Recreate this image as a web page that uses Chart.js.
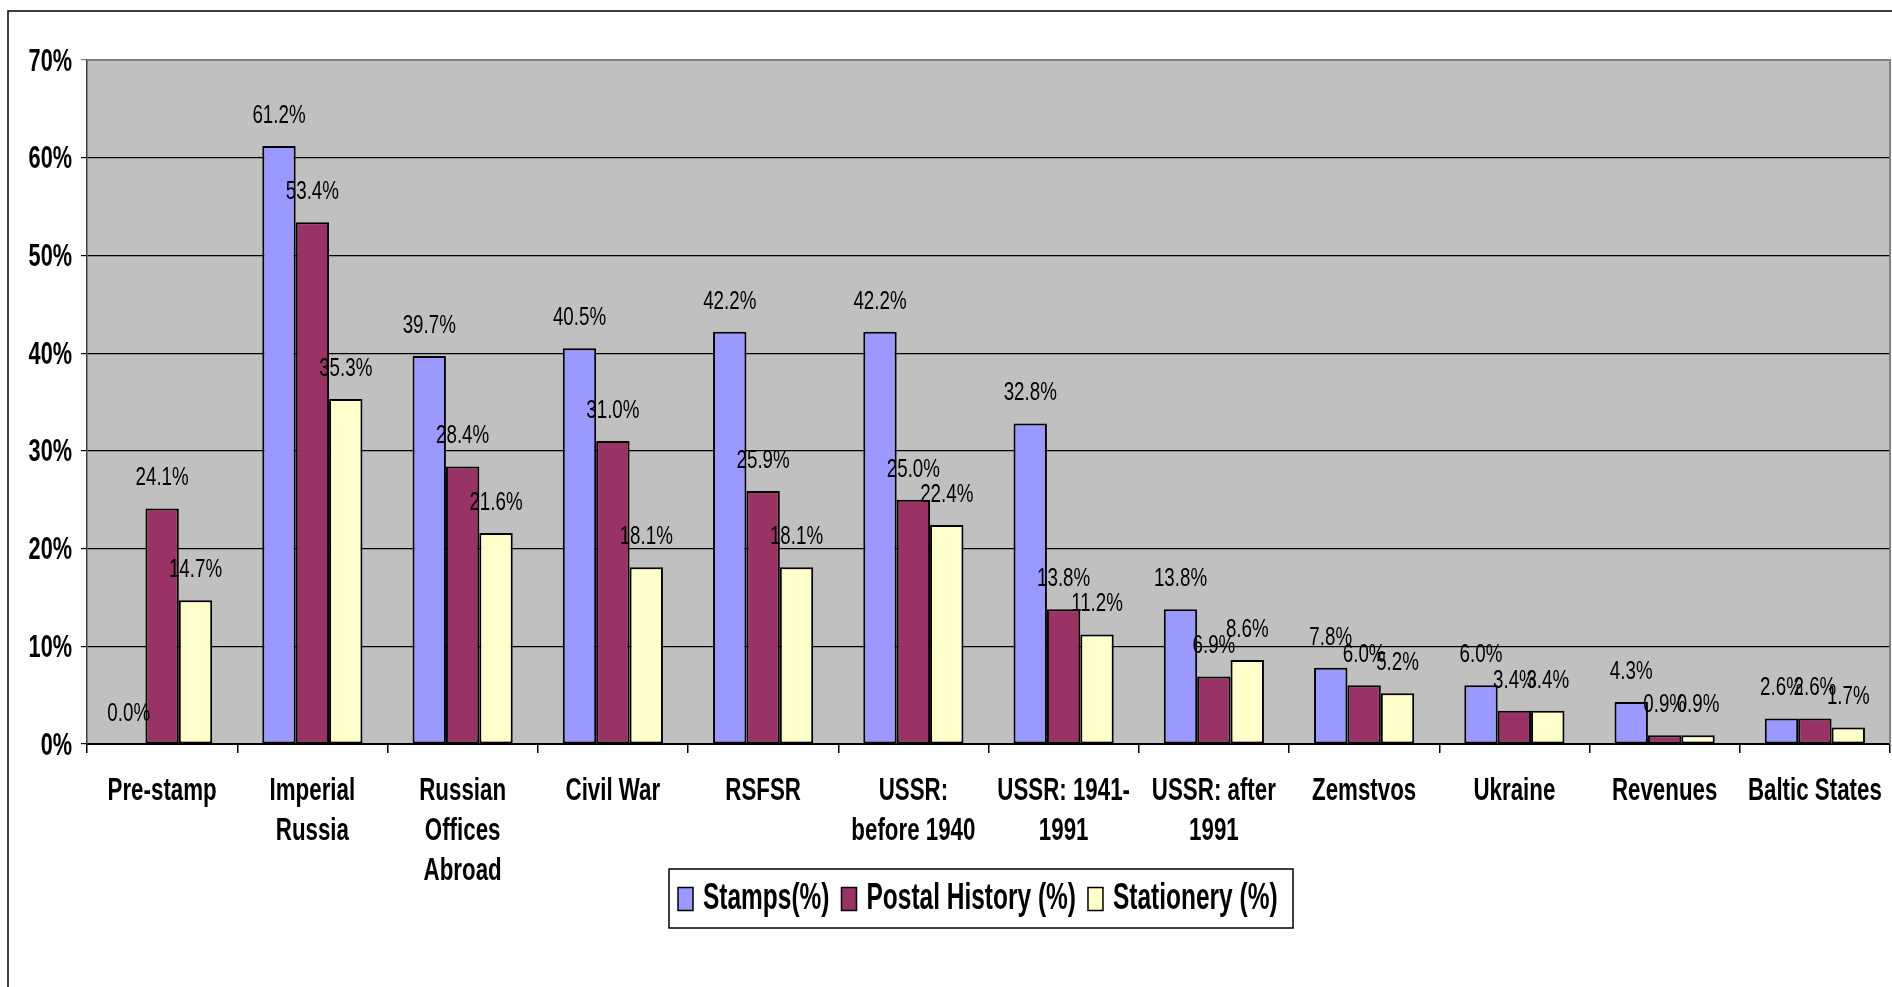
<!DOCTYPE html>
<html>
<head>
<meta charset="utf-8">
<script src="https://cdn.jsdelivr.net/npm/chart.js@4/dist/chart.umd.min.js"></script>
<style>
  html, body { margin: 0; padding: 0; background: #fff; overflow: hidden; }
  canvas { display: block; }
</style>
</head>
<body>
<canvas id="chart" width="1892" height="987"></canvas>
<script>
// Data
const categories = [
    ['Pre-stamp'],
    ['Imperial', 'Russia'],
    ['Russian', 'Offices', 'Abroad'],
    ['Civil War'],
    ['RSFSR'],
    ['USSR:', 'before 1940'],
    ['USSR: 1941-', '1991'],
    ['USSR: after', '1991'],
    ['Zemstvos'],
    ['Ukraine'],
    ['Revenues'],
    ['Baltic States']
];
const seriesNames = ['Stamps(%)', 'Postal History (%)', 'Stationery (%)'];
const stamps = [0.0, 61.2, 39.7, 40.5, 42.2, 42.2, 32.8, 13.8, 7.8, 6.0, 4.3, 2.6];
const postalHistory = [24.1, 53.4, 28.4, 31.0, 25.9, 25.0, 13.8, 6.9, 6.0, 3.4, 0.9, 2.6];
const stationery = [14.7, 35.3, 21.6, 18.1, 18.1, 22.4, 11.2, 8.6, 5.2, 3.4, 0.9, 1.7];
const yTicks = [0, 10, 20, 30, 40, 50, 60, 70];

// Arial Narrow look: Liberation Sans squeezed horizontally
const FONT = "'Liberation Sans', Arial, sans-serif";

function narrowText(ctx, text, x, y, sx, align) {
    ctx.save();
    ctx.translate(x, y);
    ctx.scale(sx, 1);
    ctx.textAlign = align;
    ctx.textBaseline = 'middle';
    ctx.fillText(text, 0, 0);
    ctx.restore();
}

// Frame, plot background and borders
const frame = {
    id: 'frame',
    beforeDraw(chart) {
        const ctx = chart.ctx;
        const a = chart.chartArea;
        ctx.save();
        ctx.fillStyle = '#fff';
        ctx.fillRect(0, 0, chart.width, chart.height);
        // outer chart border (cut off at right and bottom)
        ctx.strokeStyle = '#000';
        ctx.lineWidth = 1.5;
        ctx.beginPath();
        ctx.moveTo(8, chart.height);
        ctx.lineTo(8, 11);
        ctx.lineTo(chart.width, 11);
        ctx.stroke();
        // plot area
        ctx.fillStyle = '#c0c0c0';
        ctx.fillRect(a.left, a.top, a.right - a.left, a.bottom - a.top);
        ctx.restore();
    },
    beforeDatasetsDraw(chart) {
        const ctx = chart.ctx;
        const a = chart.chartArea;
        ctx.save();
        ctx.strokeStyle = '#808080';
        ctx.lineWidth = 2;
        ctx.beginPath();
        ctx.moveTo(a.left, a.top);
        ctx.lineTo(a.right, a.top);
        ctx.lineTo(a.right, a.bottom);
        ctx.stroke();
        ctx.restore();
    }
};

// Axis tick labels in a narrow face
const axisText = {
    id: 'axisText',
    afterDraw(chart) {
        const ctx = chart.ctx;
        const xs = chart.scales.x;
        const ys = chart.scales.y;
        ctx.save();
        ctx.fillStyle = '#000';
        ctx.font = 'bold 31px ' + FONT;
        yTicks.forEach(v => {
            narrowText(ctx, v + '%', ys.right - 15, ys.getPixelForValue(v) + 2, 0.7, 'right');
        });
        ctx.font = 'bold 31px ' + FONT;
        categories.forEach((lines, i) => {
            const x = xs.getPixelForTick(i);
            lines.forEach((line, k) => {
                narrowText(ctx, line, x, xs.top + 47 + k * 40, 0.72, 'center');
            });
        });
        ctx.restore();
    }
};

// Value labels above each bar
const valueLabels = {
    id: 'valueLabels',
    afterDatasetsDraw(chart) {
        const ctx = chart.ctx;
        ctx.save();
        ctx.fillStyle = '#000';
        ctx.font = '25px ' + FONT;
        chart.data.datasets.forEach((ds, i) => {
            const meta = chart.getDatasetMeta(i);
            meta.data.forEach((bar, j) => {
                narrowText(ctx, ds.data[j].toFixed(1) + '%', bar.x, bar.y - 30, 0.75, 'center');
            });
        });
        ctx.restore();
    }
};

// Boxed legend below the category labels
const boxLegend = {
    id: 'boxLegend',
    afterDraw(chart) {
        const ctx = chart.ctx;
        const box = { x: 669, y: 869, w: 624, h: 59 };
        const sx = 0.68;
        const cy = box.y + box.h / 2;
        ctx.save();
        ctx.strokeStyle = '#000';
        ctx.lineWidth = 1.5;
        ctx.strokeRect(box.x, box.y, box.w, box.h);
        ctx.font = 'bold 36px ' + FONT;
        let x = box.x + 9;
        chart.data.datasets.forEach(ds => {
            ctx.fillStyle = ds.backgroundColor;
            ctx.fillRect(x, cy - 11, 15, 23);
            ctx.strokeStyle = '#000';
            ctx.lineWidth = 1.5;
            ctx.strokeRect(x, cy - 11, 15, 23);
            x += 25;
            ctx.fillStyle = '#000';
            narrowText(ctx, ds.label, x, cy + 1, sx, 'left');
            x += ctx.measureText(ds.label).width * sx + 12;
        });
        ctx.restore();
    }
};

const ctx = document.getElementById('chart').getContext('2d');
new Chart(ctx, {
    type: 'bar',
    data: {
        labels: categories,
        datasets: [
            { label: seriesNames[0], data: stamps, backgroundColor: '#9999ff' },
            { label: seriesNames[1], data: postalHistory, backgroundColor: '#993366' },
            { label: seriesNames[2], data: stationery, backgroundColor: '#ffffcc' }
        ]
    },
    options: {
        responsive: false,
        animation: false,
        devicePixelRatio: 1,
        layout: { padding: { left: 0, top: 60, right: 2, bottom: 113 } },
        datasets: {
            bar: {
                borderColor: '#000',
                borderWidth: 2,
                borderSkipped: false,
                categoryPercentage: 2 / 3,
                barPercentage: 1
            }
        },
        plugins: {
            legend: { display: false },
            tooltip: { enabled: false },
            title: { display: false }
        },
        scales: {
            x: {
                offset: true,
                afterFit(scale) {
                    scale.height = 130;
                    scale.paddingLeft = 0;
                    scale.paddingRight = 0;
                },
                grid: {
                    display: true,
                    offset: true,
                    drawOnChartArea: false,
                    drawTicks: true,
                    tickLength: 9,
                    color: '#000',
                    lineWidth: 1.5
                },
                border: { display: true, color: '#000', width: 2 },
                ticks: { display: false, autoSkip: false, maxRotation: 0 }
            },
            y: {
                min: yTicks[0],
                max: yTicks[yTicks.length - 1],
                afterFit(scale) {
                    scale.width = 87;
                    scale.paddingTop = 0;
                    scale.paddingBottom = 0;
                },
                afterBuildTicks(scale) { scale.ticks = yTicks.map(v => ({ value: v })); },
                grid: {
                    drawTicks: true,
                    tickLength: 6,
                    lineWidth: 1.2,
                    color: c => c.tick && c.tick.value === yTicks[yTicks.length - 1] ? '#808080' : '#000'
                },
                border: { display: true, color: '#404040', width: 1.5 },
                ticks: { display: false }
            }
        }
    },
    plugins: [frame, valueLabels, axisText, boxLegend]
});
</script>
</body>
</html>
